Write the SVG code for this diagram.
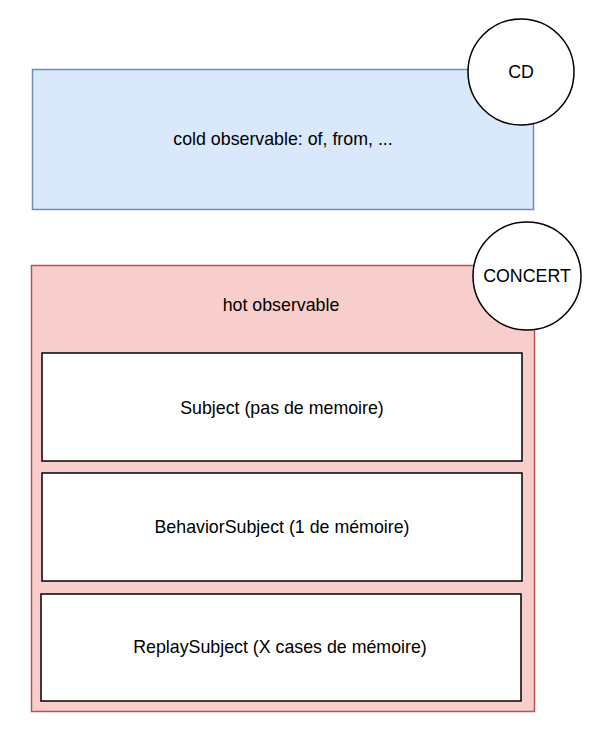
<svg xmlns="http://www.w3.org/2000/svg" width="600" height="733" viewBox="0 0 600 733">
<style>
text{font-family:"Liberation Sans",Arial,sans-serif;font-size:17.8px;fill:#000;text-anchor:middle;dominant-baseline:central}
.blue{fill:#dae8fc;stroke:#6c8ebf;stroke-width:1.5}
.red{fill:#f8cecc;stroke:#b85450;stroke-width:1.5}
.box{fill:#fff;stroke:#000;stroke-width:1.5}
.circ{fill:#fff;stroke:#000;stroke-width:1.5}
</style>
<rect width="600" height="733" fill="#fff"/>
<g id="cold">
<rect class="blue" x="32.5" y="69.5" width="501" height="140"/>
<text x="283" y="139">cold observable: of, from, ...</text>
</g>
<g id="cd">
<circle class="circ" cx="521" cy="72" r="53"/>
<text x="521" y="72">CD</text>
</g>
<g id="hot">
<rect class="red" x="31.5" y="265.5" width="503" height="446"/>
<text x="281" y="305">hot observable</text>
</g>
<g id="concert">
<circle class="circ" cx="527" cy="276" r="54"/>
<text x="527" y="276">CONCERT</text>
</g>
<g id="subject">
<rect class="box" x="42" y="353" width="480" height="108"/>
<text x="282" y="408">Subject (pas de memoire)</text>
</g>
<g id="behavior">
<rect class="box" x="42" y="473" width="480" height="108"/>
<text x="282" y="527">BehaviorSubject (1 de mémoire)</text>
</g>
<g id="replay">
<rect class="box" x="41" y="594" width="480" height="107"/>
<text x="280" y="647">ReplaySubject (X cases de mémoire)</text>
</g>
<g id="connectors"></g>
</svg>
